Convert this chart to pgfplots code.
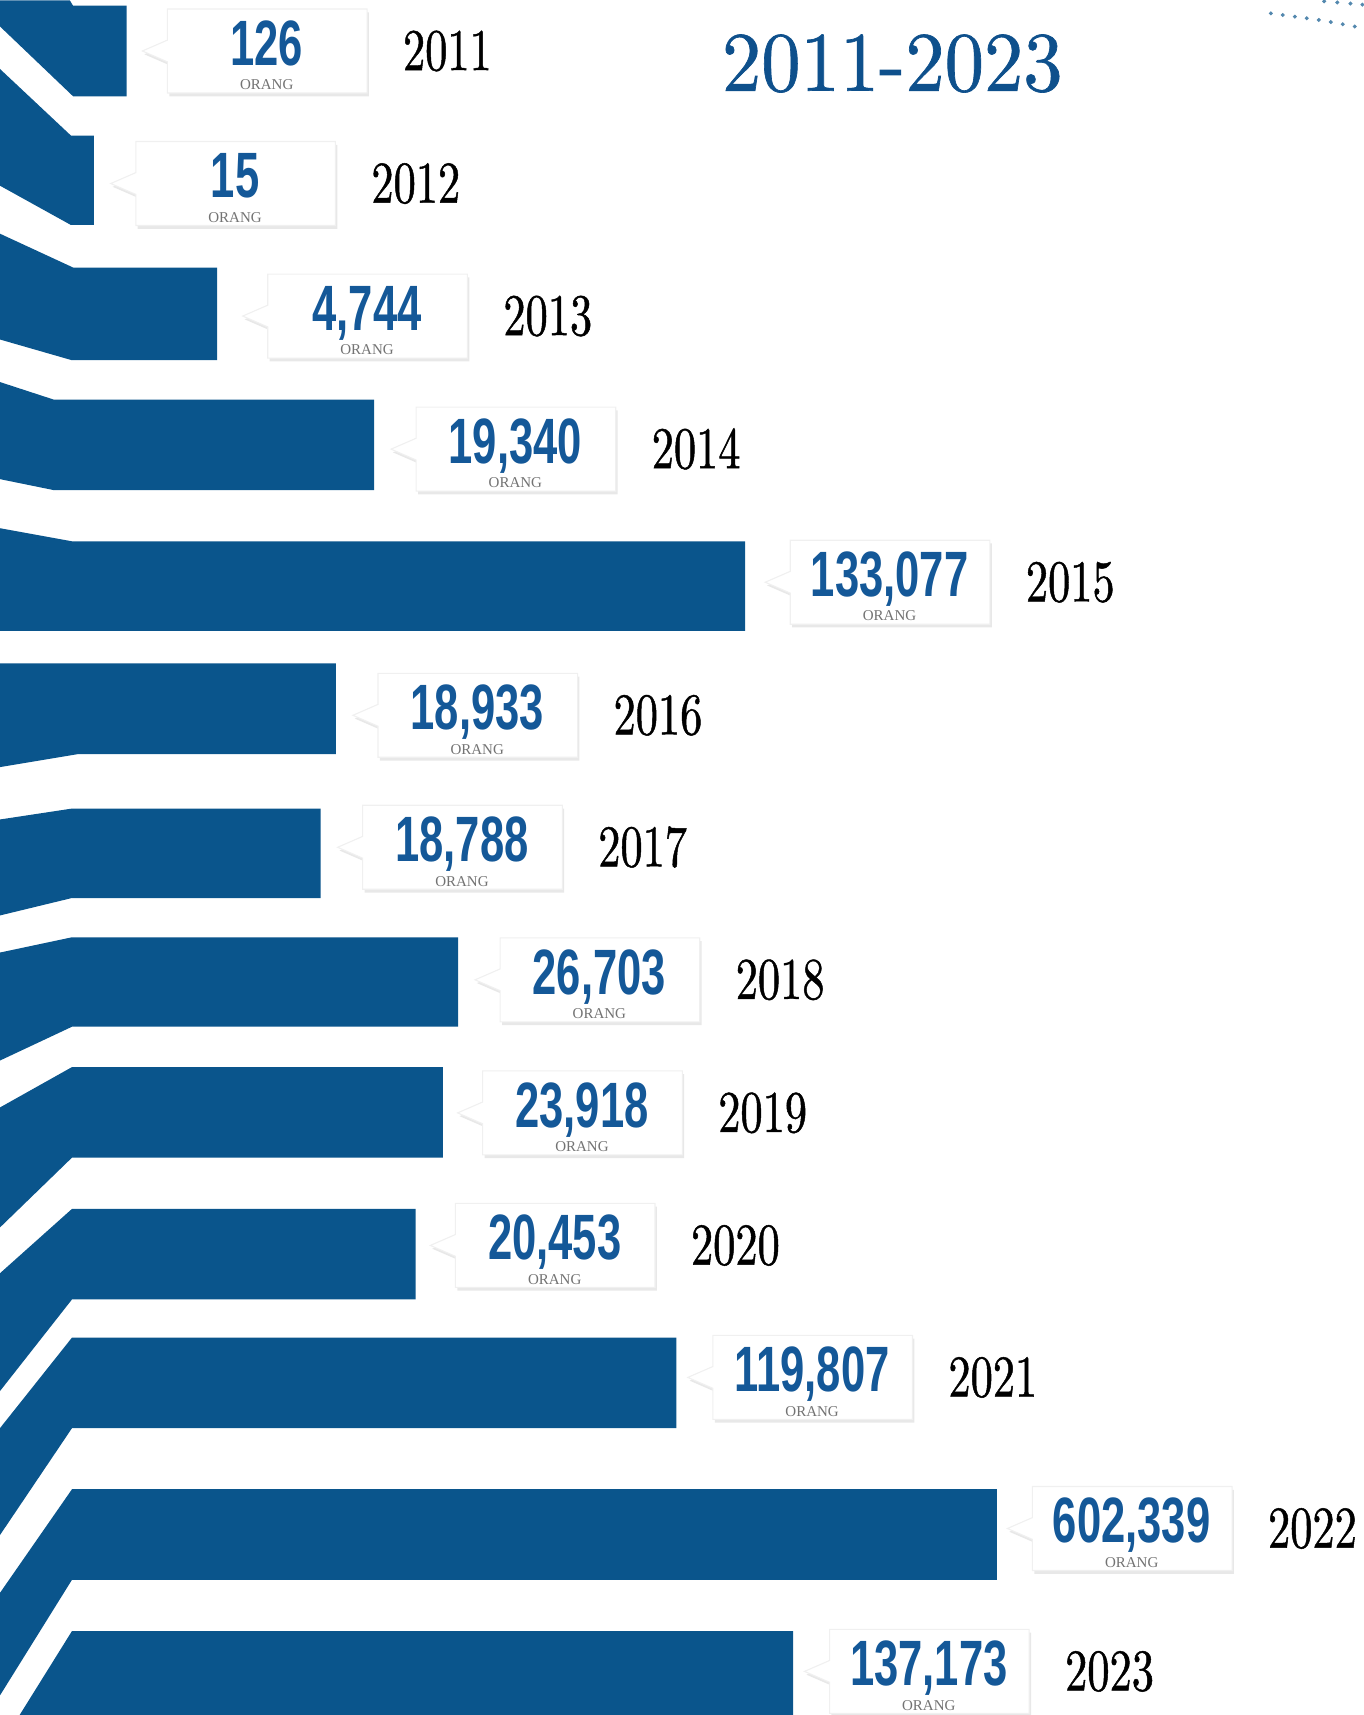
\documentclass[border=0pt]{standalone}
\usepackage{fontspec}
\usepackage{pgfplots}
\usepackage{pgfplotstable}
\pgfplotsset{compat=1.18}
\usetikzlibrary{shapes.callouts,shadows}
\newfontfamily\valfont[FakeStretch=0.68]{Liberation Sans Bold}
\newfontfamily\yearfont[FakeStretch=0.75,FakeBold=0.8]{lmroman10-regular.otf}
\newfontfamily\titlefont[FakeStretch=0.93,FakeBold=0.8]{lmroman10-regular.otf}
\newfontfamily\orangfont{Liberation Serif}
\definecolor{barblue}{RGB}{10,85,140}
\definecolor{valblue}{RGB}{20,88,152}
\definecolor{titleblue}{RGB}{14,80,140}

\pgfplotstableread{
year R boxL mid val
2011 115 153 46.5 126
2012 86 124 168 15
2013 199 245 289.5 4,744
2014 343 381 411.5 19,340
2015 683 724 533.5 133,077
2016 308 346 655.5 18,933
2017 294 332 776.5 18,788
2018 420 458 898 26,703
2019 406 442 1020 23,918
2020 381 417 1141.5 20,453
2021 620 653 1262.5 119,807
2022 914 946 1401 602,339
2023 727 760 1532 137,173
}\bars

\begin{document}
\begin{tikzpicture}
\begin{axis}[width=500pt,height=628.8pt,scale only axis,hide axis,
  xmin=0,xmax=1250,ymin=0,ymax=1572,y dir=reverse,clip=true]
\path (rel axis cs:0,0) rectangle (rel axis cs:1,1);
% bars (shape of each ribbon)
\addplot[fill=barblue,draw=none] coordinates {(0,0) (64,0) (67,5) (116,5) (116,88) (67,88) (0,24)} -- cycle;
\addplot[fill=barblue,draw=none] coordinates {(0,63) (65,124) (86,124) (86,206) (65,206) (0,170)} -- cycle;
\addplot[fill=barblue,draw=none] coordinates {(0,214) (67,245) (199,245) (199,330) (66,330) (0,311)} -- cycle;
\addplot[fill=barblue,draw=none] coordinates {(0,350) (49,366) (343,366) (343,449) (49,449) (0,439)} -- cycle;
\addplot[fill=barblue,draw=none] coordinates {(0,484) (66,496) (683,496) (683,578) (0,578)} -- cycle;
\addplot[fill=barblue,draw=none] coordinates {(0,608) (308,608) (308,691) (72,691) (0,703)} -- cycle;
\addplot[fill=barblue,draw=none] coordinates {(0,751) (66,741) (294,741) (294,823) (66,823) (0,839)} -- cycle;
\addplot[fill=barblue,draw=none] coordinates {(0,873) (66,859) (420,859) (420,941) (66,941) (0,972)} -- cycle;
\addplot[fill=barblue,draw=none] coordinates {(0,1015) (66,978) (406,978) (406,1061) (66,1061) (0,1125)} -- cycle;
\addplot[fill=barblue,draw=none] coordinates {(0,1167) (66,1108) (381,1108) (381,1191) (66,1191) (0,1275)} -- cycle;
\addplot[fill=barblue,draw=none] coordinates {(0,1309) (66,1226) (620,1226) (620,1309) (66,1309) (0,1407)} -- cycle;
\addplot[fill=barblue,draw=none] coordinates {(0,1460) (66,1365) (914,1365) (914,1448) (66,1448) (0,1554)} -- cycle;
\addplot[fill=barblue,draw=none] coordinates {(18,1572) (66,1495) (727,1495) (727,1572)} -- cycle;
% callout boxes
\addplot[draw=none,mark=none,point meta=explicit symbolic,
  nodes near coords={\phantom{0}},
  every node near coord/.append style={shape=rectangle callout,fill=white,draw=black!6,
    minimum width=73.2pt,minimum height=30.8pt,inner sep=0pt,anchor=west,
    callout relative pointer={(-9.2pt,0pt)},callout pointer width=8pt,
    drop shadow={shadow xshift=0.7pt,shadow yshift=-1.2pt,opacity=0.18}}]
  table[x=boxL,y=mid,meta=val]{\bars};
% values
\addplot[draw=none,mark=none,point meta=explicit symbolic,
  nodes near coords={\pgfplotspointmeta},
  every node near coord/.append style={font=\valfont\fontsize{23.5}{24}\selectfont,text=valblue,
    anchor=base,xshift=36.6pt,yshift=-5.3pt,inner sep=0pt}]
  table[x=boxL,y=mid,meta=val]{\bars};
% unit
\addplot[draw=none,mark=none,point meta=explicit symbolic,
  nodes near coords={ORANG},
  every node near coord/.append style={font=\orangfont\fontsize{5.5}{6}\selectfont,text=black!55,
    anchor=base,xshift=36.6pt,yshift=-14.2pt,inner sep=0pt}]
  table[x=boxL,y=mid,meta=val]{\bars};
% years
\addplot[draw=none,mark=none,point meta=explicit symbolic,
  nodes near coords={\pgfplotspointmeta},
  every node near coord/.append style={font=\yearfont\fontsize{21.7}{22}\selectfont,text=black,
    anchor=base west,xshift=86.4pt,yshift=-7pt,inner sep=0pt}]
  table[x=boxL,y=mid,meta=year]{\bars};
% decorative dots
\addplot[only marks,mark=*,mark size=0.5pt,barblue!70,draw=none] coordinates {(1165,12) (1176,13.5) (1187,15) (1198,16.5) (1209,18) (1220,20) (1231,22) (1242,24) (1214,1) (1226,2) (1238,3) (1249,4)};
\node[font=\titlefont\fontsize{31}{32}\selectfont,text=titleblue] at (axis cs:818,58) {2011-2023};
\end{axis}
\end{tikzpicture}
\end{document}
